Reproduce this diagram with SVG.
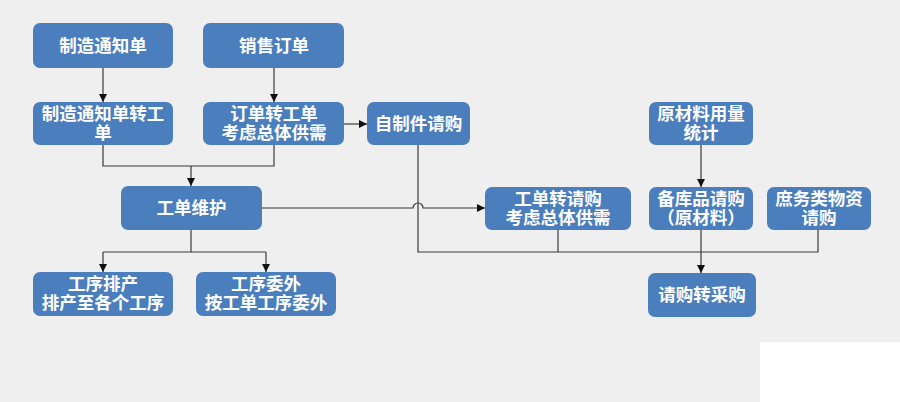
<svg xmlns="http://www.w3.org/2000/svg" width="900" height="402" viewBox="0 0 900 402">
<defs>
<style>
.n{fill:#4b7ebd;}
.t{fill:#fff;font-family:"Noto Sans CJK SC","Noto Sans",sans-serif;font-weight:bold;font-size:17.5px;text-anchor:middle;}
.c{fill:none;stroke:#3a3a3a;stroke-width:1.2;}
</style>
<marker id="a" markerUnits="userSpaceOnUse" markerWidth="9" markerHeight="9" refX="8" refY="4" orient="auto">
<path d="M0,0 L8,4 L0,8 z" fill="#111"/>
</marker>
</defs>
<rect width="900" height="402" fill="#efefef"/>
<rect x="760" y="342" width="140" height="60" fill="#fff"/>
<g id="connectors">
<path class="c" d="M103,68 V102" marker-end="url(#a)"/>
<path class="c" d="M274,68 V102" marker-end="url(#a)"/>
<path class="c" d="M344,124 H367" marker-end="url(#a)"/>
<path class="c" d="M103,145 V166 H274 V145"/>
<path class="c" d="M191,166 V186" marker-end="url(#a)"/>
<path class="c" d="M191,230 V252"/>
<path class="c" d="M103,252 H266"/>
<path class="c" d="M103,252 V272" marker-end="url(#a)"/>
<path class="c" d="M266,252 V272" marker-end="url(#a)"/>
<path class="c" d="M262,208 H413 A5,5 0 0 1 423,208 H485" marker-end="url(#a)"/>
<path class="c" d="M418,145 V252 H818 V230"/>
<path class="c" d="M558,230 V252"/>
<path class="c" d="M701,230 V273" marker-end="url(#a)"/>
<path class="c" d="M701,145 V187" marker-end="url(#a)"/>
</g>
<g id="n1"><rect class="n" x="33" y="23" width="140" height="45" rx="7"/><text class="t" x="103" y="52">制造通知单</text></g>
<g id="n2"><rect class="n" x="203" y="23" width="141" height="45" rx="7"/><text class="t" x="274" y="52">销售订单</text></g>
<g id="n3"><rect class="n" x="33" y="102" width="140" height="43" rx="7"/><text class="t" x="103" y="120">制造通知单转工<tspan x="103" y="139">单</tspan></text></g>
<g id="n4"><rect class="n" x="203" y="102" width="141" height="43" rx="7"/><text class="t" x="274" y="120">订单转工单<tspan x="274" y="139">考虑总体供需</tspan></text></g>
<g id="n5"><rect class="n" x="367" y="102" width="103" height="43" rx="7"/><text class="t" x="418.5" y="130">自制件请购</text></g>
<g id="n6"><rect class="n" x="121" y="186" width="141" height="44" rx="7"/><text class="t" x="191.5" y="214">工单维护</text></g>
<g id="n7"><rect class="n" x="33" y="272" width="140" height="44" rx="7"/><text class="t" x="103" y="290">工序排产<tspan x="103" y="309">排产至各个工序</tspan></text></g>
<g id="n8"><rect class="n" x="196" y="272" width="140" height="44" rx="7"/><text class="t" x="266" y="290">工序委外<tspan x="266" y="309">按工单工序委外</tspan></text></g>
<g id="n9"><rect class="n" x="649" y="102" width="104" height="43" rx="7"/><text class="t" x="701" y="120">原材料用量<tspan x="701" y="139">统计</tspan></text></g>
<g id="n10"><rect class="n" x="485" y="187" width="146" height="43" rx="7"/><text class="t" x="558" y="205">工单转请购<tspan x="558" y="224">考虑总体供需</tspan></text></g>
<g id="n11"><rect class="n" x="649" y="187" width="104" height="43" rx="7"/><text class="t" x="701" y="205">备库品请购<tspan x="701" y="224">（原材料）</tspan></text></g>
<g id="n12"><rect class="n" x="767" y="187" width="104" height="43" rx="7"/><text class="t" x="819" y="205">庶务类物资<tspan x="819" y="224">请购</tspan></text></g>
<g id="n13"><rect class="n" x="648" y="273" width="108" height="44" rx="7"/><text class="t" x="702" y="301">请购转采购</text></g>
</svg>
